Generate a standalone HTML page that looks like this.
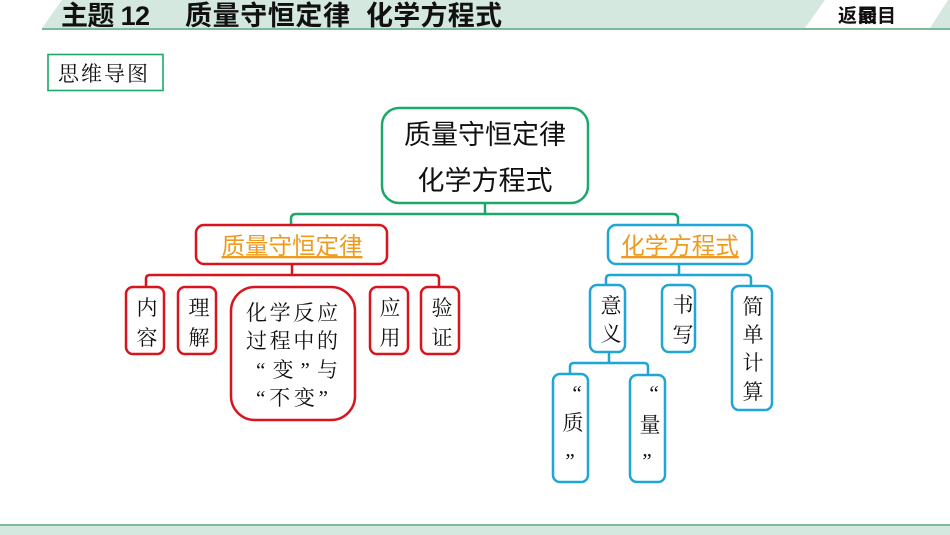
<!DOCTYPE html>
<html lang="zh">
<head>
<meta charset="utf-8">
<style>
html,body{margin:0;padding:0;background:#fff;width:950px;height:535px;overflow:hidden}
svg{display:block}
.t{font-family:"Liberation Sans","Noto Sans CJK SC",sans-serif;font-weight:700;fill:#111;font-size:27px}
.b{font-family:"Liberation Sans","Noto Sans CJK SC",sans-serif;font-weight:700;fill:#111;font-size:19px}
.r{font-family:"Liberation Sans","Noto Sans CJK SC",sans-serif;font-size:27px;fill:#111;text-anchor:middle}
.o{font-family:"Liberation Sans","Noto Sans CJK SC",sans-serif;font-size:23.5px;fill:#ee9b20;text-anchor:middle;text-decoration:underline}
.k{font-family:"Liberation Serif","Noto Serif CJK SC",serif;font-size:21px;fill:#111;text-anchor:middle}
.box{fill:#fff;stroke-width:2.5}
.red{stroke:#d8141c}.blue{stroke:#1fa6d6}.green{stroke:#1ca868}
.line{fill:none;stroke-width:2.5}
</style>
</head>
<body>
<svg width="950" height="535" viewBox="0 0 950 535" xmlns="http://www.w3.org/2000/svg">
<polygon points="62,0 825,0 805,28 42,28" fill="#d5e8df"/>
<polygon points="948,0 950,0 950,28 930,28" fill="#d5e8df"/>
<rect x="42" y="28" width="908" height="2" fill="#7fb99b"/>
<rect x="0" y="524" width="950" height="2" fill="#7fb99b"/>
<rect x="0" y="526" width="950" height="9" fill="#d5e8df"/>

<text class="t" x="61" y="25" textLength="89">主题 12</text>
<text class="t" x="185" y="25" textLength="165">质量守恒定律</text>
<text class="t" x="366" y="25" textLength="136">化学方程式</text>
<text class="b" x="838" y="22">返</text>
<text class="b" x="858" y="22">回</text>
<text class="b" x="858" y="22">最</text>
<text class="b" x="877" y="22">目</text>

<rect x="48" y="54.500" width="115" height="36" fill="#fff" stroke="#1ca868" stroke-width="1.6"/>
<text class="k" x="103" y="81" textLength="90">思维导图</text>

<path class="line green" d="M485 203V214M291 225V219Q291 214 296 214H673Q678 214 678 219V225"/>
<path class="line red" d="M292 264V275M146 287V279Q146 275 150 275H435Q439 275 439 279V287"/>
<path class="line blue" d="M679 264V275M606 286V279Q606 275 610 275H747Q751 275 751 279V286"/>
<path class="line blue" d="M609 352V363M570 374V367Q570 363 574 363H644Q648 363 648 367V375"/>

<rect class="box green" x="382" y="108" width="206" height="95" rx="17"/>
<text class="r" x="485" y="144">质量守恒定律</text>
<text class="r" x="485" y="190">化学方程式</text>

<rect class="box red" x="196" y="225" width="191" height="39" rx="8"/>
<text class="o" x="292" y="254">质量守恒定律</text>
<rect class="box blue" x="608" y="225" width="144" height="39" rx="8"/>
<text class="o" x="680" y="254">化学方程式</text>

<rect class="box red" x="126" y="287" width="38" height="67" rx="7"/>
<text class="k" x="147" y="315">内</text><text class="k" x="147" y="345">容</text>
<rect class="box red" x="178" y="287" width="38" height="67" rx="7"/>
<text class="k" x="199" y="315">理</text><text class="k" x="199" y="345">解</text>
<rect class="box red" x="231" y="287" width="124" height="133" rx="24"/>
<text class="k" x="292" y="320" textLength="92">化学反应</text>
<text class="k" x="292" y="348" textLength="92">过程中的</text>
<text class="k" x="297" y="377" textLength="82">“变”与</text>
<text class="k" x="292" y="405" textLength="72">“不变”</text>
<rect class="box red" x="370" y="287" width="38" height="67" rx="7"/>
<text class="k" x="390" y="315">应</text><text class="k" x="390" y="345">用</text>
<rect class="box red" x="421" y="287" width="38" height="67" rx="7"/>
<text class="k" x="442" y="315">验</text><text class="k" x="442" y="345">证</text>

<rect class="box blue" x="590" y="285" width="35" height="67" rx="7"/>
<text class="k" x="611" y="313">意</text><text class="k" x="611" y="341">义</text>
<rect class="box blue" x="662" y="285" width="33" height="67" rx="7"/>
<text class="k" x="683" y="312">书</text><text class="k" x="683" y="342">写</text>
<rect class="box blue" x="732" y="286" width="40" height="124" rx="7"/>
<text class="k" x="753" y="314">简</text><text class="k" x="753" y="342">单</text><text class="k" x="753" y="370">计</text><text class="k" x="753" y="399">算</text>

<rect class="box blue" x="553" y="374" width="35" height="108" rx="7"/>
<text class="k" x="577" y="400">“</text><text class="k" x="573" y="430">质</text><text class="k" x="570" y="468">”</text>
<rect class="box blue" x="630" y="375" width="35" height="107" rx="7"/>
<text class="k" x="654" y="400">“</text><text class="k" x="650" y="432">量</text><text class="k" x="647" y="468">”</text>
</svg>
</body>
</html>
